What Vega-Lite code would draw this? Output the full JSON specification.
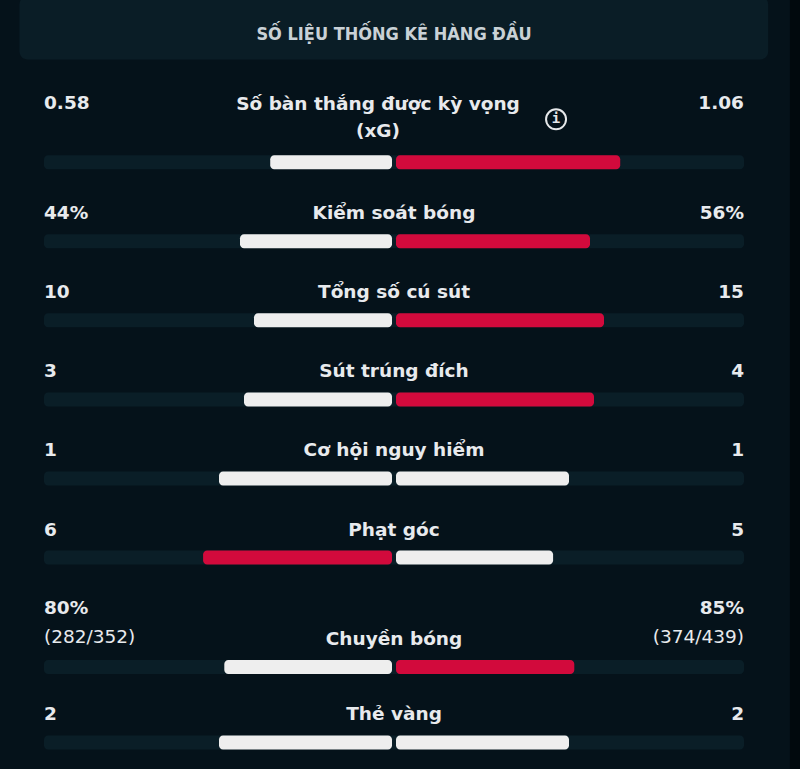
{
  "$schema": "https://vega.github.io/schema/vega-lite/v6.json",
  "width": 800,
  "height": 769,
  "autosize": "none",
  "padding": 0,
  "background": "#05121a",
  "config": {"view": {"stroke": null}, "axis": {"disable": true}},
  "data": {
    "values": [
      {"order": 1, "stat": "Số bàn thắng được kỳ vọng\n(xG)", "home": 0.58, "away": 1.06, "homeLabel": "0.58", "awayLabel": "1.06", "homeDetail": "", "awayDetail": ""},
      {"order": 2, "stat": "Kiểm soát bóng", "home": 44, "away": 56, "homeLabel": "44%", "awayLabel": "56%", "homeDetail": "", "awayDetail": ""},
      {"order": 3, "stat": "Tổng số cú sút", "home": 10, "away": 15, "homeLabel": "10", "awayLabel": "15", "homeDetail": "", "awayDetail": ""},
      {"order": 4, "stat": "Sút trúng đích", "home": 3, "away": 4, "homeLabel": "3", "awayLabel": "4", "homeDetail": "", "awayDetail": ""},
      {"order": 5, "stat": "Cơ hội nguy hiểm", "home": 1, "away": 1, "homeLabel": "1", "awayLabel": "1", "homeDetail": "", "awayDetail": ""},
      {"order": 6, "stat": "Phạt góc", "home": 6, "away": 5, "homeLabel": "6", "awayLabel": "5", "homeDetail": "", "awayDetail": ""},
      {"order": 7, "stat": "Chuyền bóng", "home": 80, "away": 85, "homeLabel": "80%", "awayLabel": "85%", "homeDetail": "(282/352)", "awayDetail": "(374/439)"},
      {"order": 8, "stat": "Thẻ vàng", "home": 2, "away": 2, "homeLabel": "2", "awayLabel": "2", "homeDetail": "", "awayDetail": ""}
    ]
  },
  "transform": [
    {"calculate": "-datum.home / (datum.home + datum.away)", "as": "homeShareNeg"},
    {"calculate": "datum.away / (datum.home + datum.away)", "as": "awayShare"},
    {"calculate": "indexof(datum.stat, '\\n') >= 0 || datum.homeDetail != ''", "as": "tall"},
    {"calculate": "'i'", "as": "icon"}
  ],
  "layer": [
    {
      "mark": {"type": "bar", "orient": "horizontal", "height": 14, "fill": "#0a1e27", "cornerRadius": 4},
      "encoding": {
        "x": {"datum": -1, "type": "quantitative", "scale": {"domain": [-1, 1], "range": [44, 744], "zero": false, "nice": false}},
        "x2": {"datum": 1},
        "y": {"field": "order", "type": "quantitative", "scale": {"domain": [1, 6, 7, 8], "range": [157.5, 557.5, 667, 747], "zero": false, "nice": false}}
      }
    },
    {
      "transform": [{"filter": "datum.order == 1"}],
      "mark": {"type": "rect", "fill": "#01090d"},
      "encoding": {
        "x": {"datum": 1.131, "type": "quantitative"},
        "x2": {"datum": 1.3},
        "y": {"datum": -1.3, "type": "quantitative"},
        "y2": {"datum": 9.5}
      }
    },
    {
      "transform": [{"filter": "datum.order == 1"}],
      "mark": {"type": "rect", "fill": "#0a1d26", "cornerRadius": 8},
      "encoding": {
        "x": {"datum": -1.07, "type": "quantitative"},
        "x2": {"datum": 1.069},
        "y": {"datum": -1.1, "type": "quantitative"},
        "y2": {"datum": -0.3}
      }
    },
    {
      "transform": [{"filter": "datum.order == 1"}],
      "mark": {"type": "text", "font": "DejaVu Sans Condensed, DejaVu Sans", "fontWeight": "bold", "fontSize": 18, "fill": "#c9d1d6", "align": "center", "baseline": "middle"},
      "encoding": {
        "x": {"datum": 0, "type": "quantitative"},
        "y": {"datum": -0.6125, "type": "quantitative"},
        "text": {"value": "SỐ LIỆU THỐNG KÊ HÀNG ĐẦU"}
      }
    },
    {
      "mark": {"type": "bar", "orient": "horizontal", "height": 14, "cornerRadius": 4, "x2Offset": -2},
      "encoding": {
        "x": {"field": "homeShareNeg", "type": "quantitative"},
        "x2": {"datum": 0},
        "y": {"field": "order", "type": "quantitative"},
        "color": {"condition": {"test": "datum.home > datum.away", "value": "#d20a3c"}, "value": "#eeeeee"}
      }
    },
    {
      "mark": {"type": "bar", "orient": "horizontal", "height": 14, "cornerRadius": 4, "x2Offset": 2},
      "encoding": {
        "x": {"field": "awayShare", "type": "quantitative"},
        "x2": {"datum": 0},
        "y": {"field": "order", "type": "quantitative"},
        "color": {"condition": {"test": "datum.away > datum.home", "value": "#d20a3c"}, "value": "#eeeeee"}
      }
    },
    {
      "transform": [{"filter": "indexof(datum.stat, '\\n') < 0"}],
      "mark": {"type": "text", "font": "DejaVu Sans", "fontWeight": "bold", "fontSize": 18.5, "fill": "#e8eaed", "align": "center", "baseline": "bottom", "dy": -18},
      "encoding": {
        "x": {"datum": 0, "type": "quantitative"},
        "y": {"field": "order", "type": "quantitative"},
        "text": {"field": "stat"}
      }
    },
    {
      "transform": [{"filter": "indexof(datum.stat, '\\n') >= 0"}],
      "mark": {"type": "text", "font": "DejaVu Sans", "fontWeight": "bold", "fontSize": 18.5, "fill": "#e8eaed", "align": "center", "baseline": "bottom", "dy": -48, "dx": -16, "lineBreak": "\n", "lineHeight": 27},
      "encoding": {
        "x": {"datum": 0, "type": "quantitative"},
        "y": {"field": "order", "type": "quantitative"},
        "text": {"field": "stat"}
      }
    },
    {
      "transform": [{"filter": "!datum.tall"}],
      "mark": {"type": "text", "font": "DejaVu Sans", "fontWeight": "bold", "fontSize": 18.5, "fill": "#e8eaed", "align": "left", "baseline": "bottom", "dy": -18},
      "encoding": {
        "x": {"datum": -1, "type": "quantitative"},
        "y": {"field": "order", "type": "quantitative"},
        "text": {"field": "homeLabel"}
      }
    },
    {
      "transform": [{"filter": "!datum.tall"}],
      "mark": {"type": "text", "font": "DejaVu Sans", "fontWeight": "bold", "fontSize": 18.5, "fill": "#e8eaed", "align": "right", "baseline": "bottom", "dy": -18},
      "encoding": {
        "x": {"datum": 1, "type": "quantitative"},
        "y": {"field": "order", "type": "quantitative"},
        "text": {"field": "awayLabel"}
      }
    },
    {
      "transform": [{"filter": "datum.tall"}],
      "mark": {"type": "text", "font": "DejaVu Sans", "fontWeight": "bold", "fontSize": 18.5, "fill": "#e8eaed", "align": "left", "baseline": "bottom", "dy": -49},
      "encoding": {
        "x": {"datum": -1, "type": "quantitative"},
        "y": {"field": "order", "type": "quantitative"},
        "text": {"field": "homeLabel"}
      }
    },
    {
      "transform": [{"filter": "datum.tall"}],
      "mark": {"type": "text", "font": "DejaVu Sans", "fontWeight": "bold", "fontSize": 18.5, "fill": "#e8eaed", "align": "right", "baseline": "bottom", "dy": -49},
      "encoding": {
        "x": {"datum": 1, "type": "quantitative"},
        "y": {"field": "order", "type": "quantitative"},
        "text": {"field": "awayLabel"}
      }
    },
    {
      "transform": [{"filter": "datum.homeDetail != ''"}],
      "mark": {"type": "text", "font": "DejaVu Sans", "fontWeight": "normal", "fontSize": 18.5, "fill": "#e8eaed", "align": "left", "baseline": "bottom", "dy": -20},
      "encoding": {
        "x": {"datum": -1, "type": "quantitative"},
        "y": {"field": "order", "type": "quantitative"},
        "text": {"field": "homeDetail"}
      }
    },
    {
      "transform": [{"filter": "datum.awayDetail != ''"}],
      "mark": {"type": "text", "font": "DejaVu Sans", "fontWeight": "normal", "fontSize": 18.5, "fill": "#e8eaed", "align": "right", "baseline": "bottom", "dy": -20},
      "encoding": {
        "x": {"datum": 1, "type": "quantitative"},
        "y": {"field": "order", "type": "quantitative"},
        "text": {"field": "awayDetail"}
      }
    },
    {
      "transform": [{"filter": "indexof(datum.stat, '\\n') >= 0"}],
      "mark": {"type": "point", "shape": "circle", "filled": false, "stroke": "#e6e8ea", "strokeWidth": 2, "size": 400, "opacity": 1, "yOffset": -43},
      "encoding": {
        "x": {"datum": 0.463, "type": "quantitative"},
        "y": {"field": "order", "type": "quantitative"}
      }
    },
    {
      "transform": [{"filter": "indexof(datum.stat, '\\n') >= 0"}],
      "mark": {"type": "text", "font": "DejaVu Sans Mono", "fontWeight": "bold", "fontSize": 14, "fill": "#e6e8ea", "align": "center", "baseline": "middle", "dy": -43},
      "encoding": {
        "x": {"datum": 0.463, "type": "quantitative"},
        "y": {"field": "order", "type": "quantitative"},
        "text": {"field": "icon"}
      }
    }
  ]
}
